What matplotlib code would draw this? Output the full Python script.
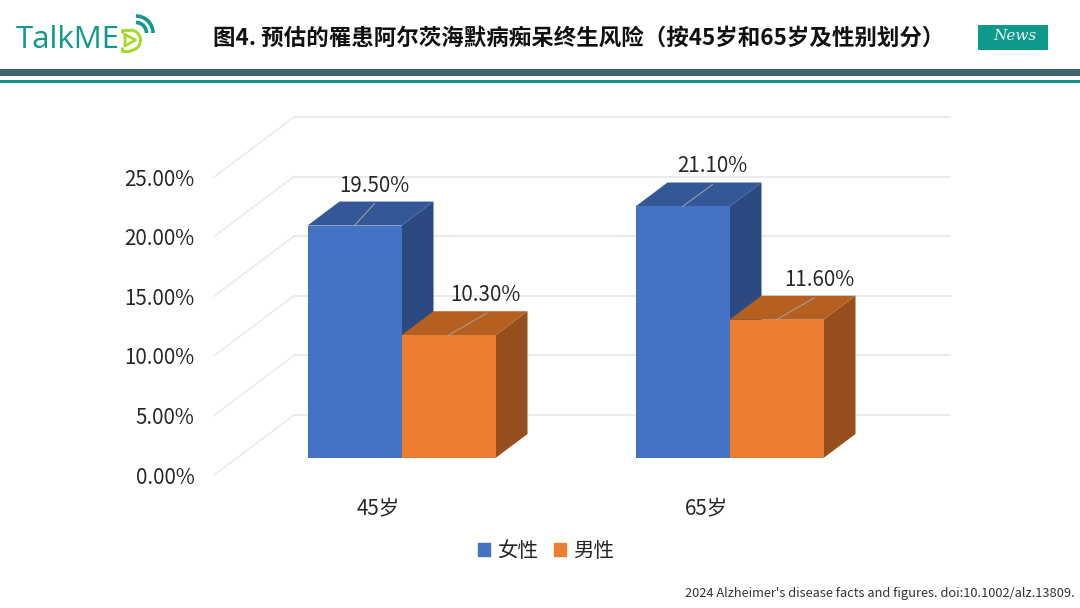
import matplotlib
matplotlib.use('Agg')
import matplotlib.pyplot as plt
from matplotlib.patches import Arc, Patch, Rectangle

plt.rcParams['font.family'] = ['Noto Sans CJK SC', 'DejaVu Sans']

# data
ages = ['45岁', '65岁']
series = ['女性', '男性']
female = [19.5, 21.1]
male = [10.3, 11.6]
y_ticks = [0, 5, 10, 15, 20, 25]

front_colors = ['#4472C4', '#ED7D31']
top_colors = ['#335797', '#B55F20']
side_colors = ['#2B4A82', '#964F1C']
grid_color = '#E8E8E8'
text_color = '#262626'

# label offsets from the front top centre of each bar, pixels
label_dx = [[20, 37], [30, 43]]
leader_dx = [[20, 38], [30, 38]]

fig = plt.figure(figsize=(10.8, 6.08), dpi=100)

# chart axes = the front plane of the 3d box
ax = fig.add_axes([214 / 1080, (608 - 475) / 608, 656 / 1080, 298 / 608])
ax.set_xlim(0, 2)
ax.set_ylim(0, 25)
ax.patch.set_visible(False)
for s in ax.spines.values():
    s.set_visible(False)

px_x = 2 / 656      # one pixel in x units
px_y = 25 / 298     # one pixel in y units
wall_dx = 80 * px_x
wall_dy = 60 * px_y
bar_dx = 32 * px_x
bar_dy = 24 * px_y
gap_dx = 23.5 * px_x
gap_dy = 17 * px_y
bar_w = 94 * px_x

# walls
for t in y_ticks:
    ax.plot([0, wall_dx], [t, t + wall_dy], color=grid_color, lw=1,
            clip_on=False, zorder=1)
    ax.plot([wall_dx, 2 + wall_dx], [t + wall_dy, t + wall_dy], color=grid_color,
            lw=1.3, clip_on=False, zorder=1)


def draw_bar(x0, v, n, z):
    x0 = x0 + gap_dx
    y0 = gap_dy
    top = v + gap_dy
    x1 = x0 + bar_w
    ax.fill([x1, x1 + bar_dx, x1 + bar_dx, x1], [y0, y0 + bar_dy, top + bar_dy, top],
            color=side_colors[n], lw=0, clip_on=False, zorder=z)
    ax.fill([x0, x1, x1 + bar_dx, x0 + bar_dx], [top, top, top + bar_dy, top + bar_dy],
            color=top_colors[n], lw=0, clip_on=False, zorder=z)
    ax.fill([x0, x1, x1, x0], [y0, y0, top, top],
            color=front_colors[n], lw=0, clip_on=False, zorder=z + 0.1)
    return (x0 + x1) / 2, top


for i in range(len(ages)):
    for n, vals in enumerate([female, male]):
        cx, top = draw_bar(i + 0.5 + (n - 1) * bar_w, vals[i], n, 2 + n + i * 2)
        ax.plot([cx, cx + leader_dx[i][n] * px_x], [top, top + 22 * px_y],
                color='#A6A6A6', lw=0.7, clip_on=False, zorder=8)
        ax.text(cx + label_dx[i][n] * px_x, top + 40 * px_y, f'{vals[i]:.2f}%',
                ha='center', va='center', fontsize=14.8, color=text_color, zorder=9)

ax.set_xticks([0.5, 1.5], ages)
ax.set_yticks(y_ticks, [f'{t:.2f}%' for t in y_ticks])
ax.tick_params(axis='both', length=0, labelsize=14.8, labelcolor=text_color)
ax.tick_params(axis='y', pad=14)
ax.tick_params(axis='x', pad=16.5)

handles = [Patch(color=c, label=s) for c, s in zip(front_colors, series)]
fig.legend(handles=handles, loc='center', bbox_to_anchor=(546 / 1080, 1 - 551 / 608),
           ncol=2, frameon=False, fontsize=14.8, labelcolor=text_color,
           handlelength=0.6, handleheight=0.6, handletextpad=0.35, columnspacing=0.75)

# header, footer and logo, in pixels
deco = fig.add_axes([0, 0, 1, 1], zorder=-1)
deco.set_xlim(0, 1080)
deco.set_ylim(608, 0)
deco.axis('off')
deco.add_patch(Rectangle((0, 69), 1080, 7, color='#3F6470', lw=0))
deco.add_patch(Rectangle((0, 80), 1080, 3, color='#149184', lw=0))
deco.add_patch(Rectangle((978, 25), 70, 25, color='#0E9A8B', lw=0))
deco.text(1015, 36.5, 'News', color='#E8F5F2', fontsize=11, ha='center', va='center',
          family='DejaVu Serif', style='italic')
deco.text(579, 38.5, '图4. 预估的罹患阿尔茨海默病痴呆终生风险（按45岁和65岁及性别划分）',
          fontsize=16.2, fontweight='bold', color='#111111', ha='center', va='center')
deco.text(1075, 594, "2024 Alzheimer's disease facts and figures. doi:10.1002/alz.13809.",
          fontsize=9.25, color='#333333', ha='right', va='center')

# logo
deco.text(16, 40, 'TalkME', color='#0E9A8B', fontsize=22.5, family='Open Sans',
          ha='left', va='center')
lime = '#A6D92F'
deco.plot([121.5, 130], [30, 30], color=lime, lw=2.2, solid_capstyle='butt')
deco.plot([121.5, 130], [50.5, 50.5], color=lime, lw=2.2, solid_capstyle='butt')
deco.plot([121.5, 121.5], [29, 33], color=lime, lw=2.2, solid_capstyle='butt')
deco.plot([121.5, 121.5], [47, 51.5], color=lime, lw=2.2, solid_capstyle='butt')
deco.add_patch(Arc((130, 40.25), 21, 20.5, theta1=270, theta2=90, color=lime, lw=2.2))
deco.plot([125, 125, 135.5, 125], [34.5, 46, 40, 34.5], color=lime, lw=2)
deco.add_patch(Arc((136, 33), 34, 34, theta1=270, theta2=360, color='#0E9A8B', lw=2.6))
deco.add_patch(Arc((136, 33), 21, 21, theta1=270, theta2=360, color='#0E9A8B', lw=2.6))

fig.savefig('out.png', dpi=100)
